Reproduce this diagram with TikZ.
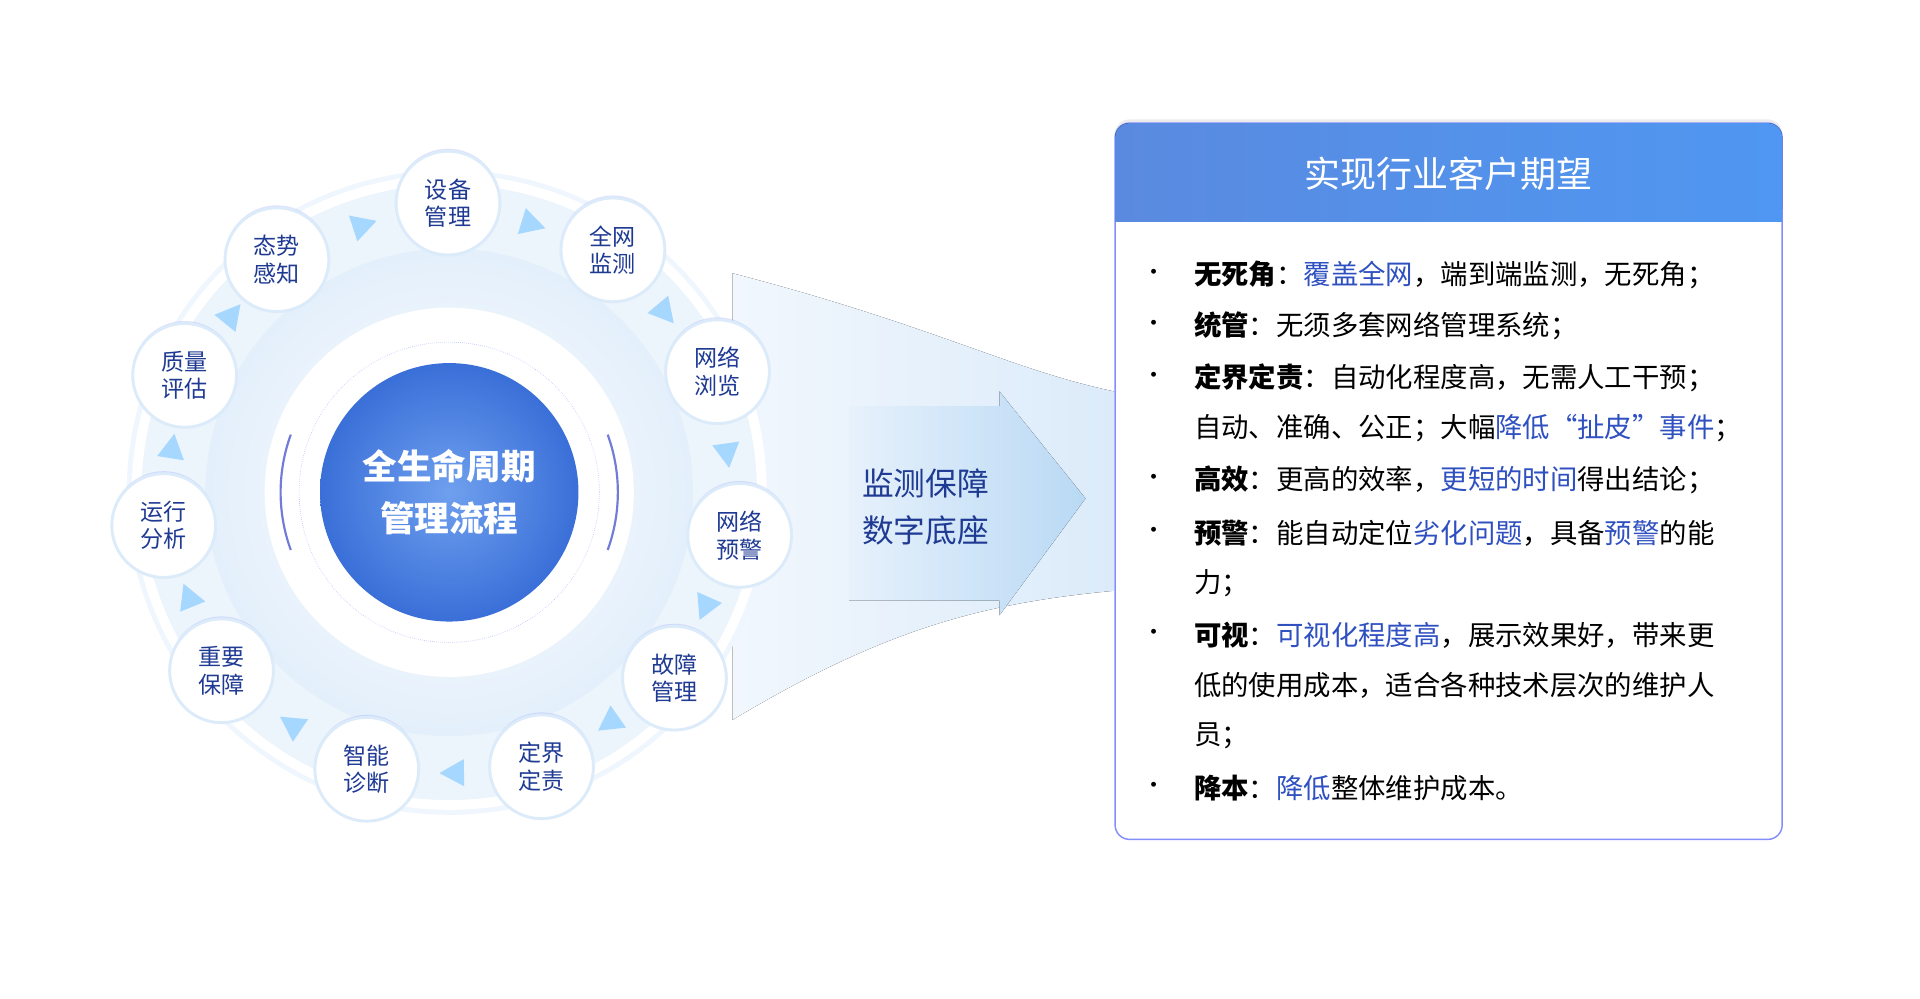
\documentclass[tikz,border=0pt]{standalone}
\usepackage{fontspec}
\setmainfont{Noto Sans CJK SC}
\usetikzlibrary{positioning,shadows}
\definecolor{navy}{HTML}{1F3A93}
\definecolor{hl}{HTML}{2F50C0}
\definecolor{ringblue}{HTML}{DCEBFA}
\definecolor{arrowr}{HTML}{B9D9F4}
\definecolor{headl}{HTML}{5A8AE0}
\definecolor{headr}{HTML}{4F97F2}
\definecolor{corein}{HTML}{6FA0EE}
\definecolor{coreout}{HTML}{3A6FD8}
\tikzset{
  stage/.style={circle,minimum size=72,fill=white,draw=ringblue,line width=2,
    align=center,text=navy,font=\fontsize{16}{19}\selectfont,inner sep=0,
    drop shadow={shadow xshift=0,shadow yshift=-2,opacity=.25,fill=ringblue!60!blue}},
  tri/.style={fill=blue!45!cyan!35,draw=none},
  item/.style={anchor=west,font=\fontsize{19}{21}\selectfont,text=black},
  dot/.style={anchor=center,font=\fontsize{16}{18}\selectfont}
}
\newcommand{\hb}[1]{\textcolor{hl}{#1}}
\begin{document}
\begin{tikzpicture}[x=0.03cm,y=-0.03cm]
\useasboundingbox (0,0) rectangle (1560,811);
\fill[white] (0,0) rectangle (1560,811);
% arrow band
\fill[left color=ringblue!40,right color=ringblue!100] (595,222) .. controls (760,265) and (820,300) .. (905,318)
  -- (905,480) .. controls (800,490) and (720,510) .. (595,585) -- cycle;
\fill[left color=ringblue!70,right color=arrowr] (690,330) -- (812,330) -- (812,318) -- (882,405)
  -- (812,500) -- (812,488) -- (690,488) -- cycle;
% ring
\coordinate (c) at (365,400);
\fill[ringblue!45] (c) circle (262);
\fill[white] (c) circle (258);
\fill[ringblue!55] (c) circle (250);
\shade[inner color=white,outer color=ringblue!80] (c) circle (198);
\fill[white] (c) circle (150);
\draw[ringblue!80!blue,densely dotted] (c) circle (122);
\draw[blue!40!navy!60,line width=1.5] ([shift={(160:137)}]c) arc (160:200:137);
\draw[blue!40!navy!60,line width=1.5] ([shift={(-20:137)}]c) arc (-20:20:137);
\shade[inner color=corein,outer color=coreout] (c) circle (105);
\node[text=white,align=center,font=\fontsize{24}{36}\selectfont\bfseries] (core) at (c) {全生命周期\\管理流程};
% triangles
\foreach \a in {-73,-40,-8,24,55,89,124,158,189,219,252} {
  \fill[tri] ([shift={(\a:228)},shift={(\a+90:12)}]c)
    -- ([shift={(\a:228)},shift={(\a-90:8)},shift={(\a:11)}]c)
    -- ([shift={(\a:228)},shift={(\a-90:8)},shift={(\a+180:11)}]c) -- cycle;
}
% stages
\node[stage] (s1) at (364,165) {设备\\管理};
\node[stage] (s2) at (498,203) {全网\\监测};
\node[stage] (s3) at (583,302) {网络\\浏览};
\node[stage] (s4) at (601,435) {网络\\预警};
\node[stage] (s5) at (548,551) {故障\\管理};
\node[stage] (s6) at (440,623) {定界\\定责};
\node[stage] (s7) at (298,625) {智能\\诊断};
\node[stage] (s8) at (180,545) {重要\\保障};
\node[stage] (s9) at (133,427) {运行\\分析};
\node[stage] (s10) at (150,305) {质量\\评估};
\node[stage] (s11) at (225,211) {态势\\感知};
\node[text=navy,align=center,font=\fontsize{22}{33}\selectfont] (base) at (752,412) {监测保障\\数字底座};
% box
\draw[ringblue!60!blue,line width=1,fill=white,rounded corners=10,
  drop shadow={shadow xshift=0,shadow yshift=-3,opacity=.15}] (906,100) rectangle (1448,682);
\fill[left color=headl,right color=headr,rounded corners=10] (906,100) rectangle (1448,180);
\fill[left color=headl,right color=headr] (906,160) rectangle (1448,180);
\node[text=white,font=\fontsize{25}{27}\selectfont] (title) at (1177,141) {实现行业客户期望};
\foreach \y in {223,265,307,390,433,516,640} \node[dot] at (938,\y) {•};
\node[item] (t1) at (966,223) {\textbf{无死角}：\hb{覆盖全网}，端到端监测，无死角；};
\node[item] (t2) at (966,265) {\textbf{统管}：无须多套网络管理系统；};
\node[item] (t3) at (966,307) {\textbf{定界定责}：自动化程度高，无需人工干预；};
\node[item] (t3b) at (966,348) {自动、准确、公正；大幅\hb{降低“扯皮”事件}；};
\node[item] (t4) at (966,390) {\textbf{高效}：更高的效率，\hb{更短的时间}得出结论；};
\node[item] (t5) at (966,433) {\textbf{预警}：能自动定位\hb{劣化问题}，具备\hb{预警}的能};
\node[item] (t5b) at (966,474) {力；};
\node[item] (t6) at (966,516) {\textbf{可视}：\hb{可视化程度高}，展示效果好，带来更};
\node[item] (t6b) at (966,557) {低的使用成本，适合各种技术层次的维护人};
\node[item] (t6c) at (966,598) {员；};
\node[item] (t7) at (966,640) {\textbf{降本}：\hb{降低}整体维护成本。};
\end{tikzpicture}
\end{document}
